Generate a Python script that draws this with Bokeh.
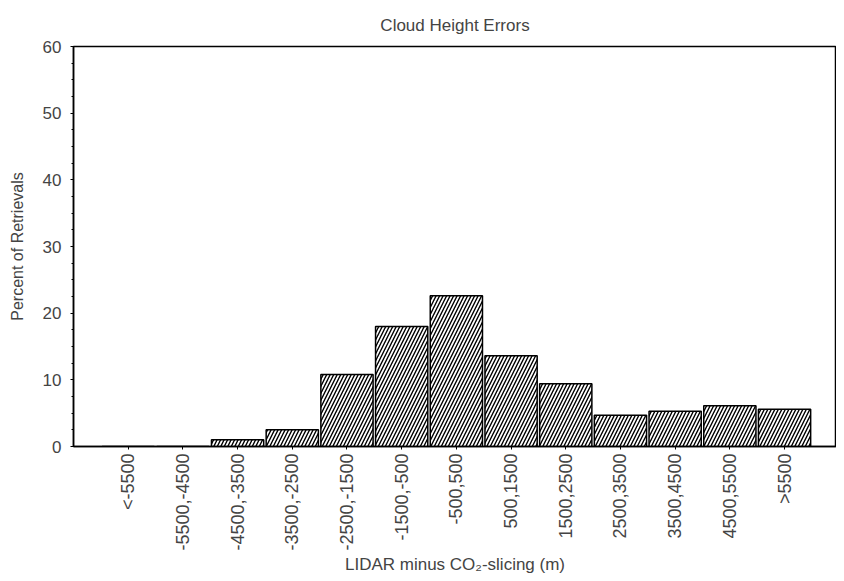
from bokeh.plotting import figure
from bokeh.models import Range1d, FixedTicker, ColumnDataSource
from bokeh.embed import file_html
from bokeh.resources import INLINE

categories = ["<-5500", "-5500,-4500", "-4500,-3500", "-3500,-2500", "-2500,-1500",
              "-1500,-500", "-500,500", "500,1500", "1500,2500", "2500,3500",
              "3500,4500", "4500,5500", ">5500"]
percent = [0.0, 0.0, 1.0, 2.5, 10.8, 18.0, 22.6, 13.6, 9.4, 4.7, 5.3, 6.1, 5.6]
y_ticks = [0, 10, 20, 30, 40, 50, 60]

xs = list(range(len(categories)))
src = ColumnDataSource(data=dict(x=xs, top=percent))

FONT = "Liberation Sans"

p = figure(width=836, height=576, output_backend="svg", toolbar_location=None,
           x_range=Range1d(-1, len(categories) - 0.05), y_range=Range1d(0, 60),
           title="Cloud Height Errors", min_border_left=73, min_border_right=0,
           min_border_top=46)

p.vbar(x="x", top="top", bottom=0, width=0.955, source=src,
       fill_color="white", line_color="black", line_width=1.5,
       hatch_pattern="/", hatch_color="black", hatch_scale=7, hatch_weight=1.4)

p.title.text_font = FONT
p.title.text_font_size = "17px"
p.title.text_font_style = "normal"
p.title.align = "center"
p.title.standoff = 24

p.xgrid.grid_line_color = None
p.ygrid.grid_line_color = None
p.outline_line_color = "black"
p.outline_line_width = 1.5

p.xaxis.ticker = FixedTicker(ticks=xs)
p.xaxis.major_label_overrides = {i: c for i, c in enumerate(categories)}
p.xaxis.major_label_orientation = 3.14159265 / 2
p.xaxis.major_label_text_font = FONT
p.xaxis.major_label_text_font_size = "18px"
p.xaxis.major_label_standoff = 4
p.xaxis.major_tick_out = 3
p.xaxis.major_tick_in = 0
p.xaxis.minor_tick_line_color = None
p.xaxis.axis_line_width = 1.5
p.xaxis.axis_label = "LIDAR minus CO\u2082-slicing (m)"
p.xaxis.axis_label_text_font = FONT
p.xaxis.axis_label_text_font_size = "17px"
p.xaxis.axis_label_text_font_style = "normal"
p.xaxis.axis_label_standoff = 1

p.yaxis.ticker = FixedTicker(ticks=y_ticks, minor_ticks=[2.5 * i for i in range(25)])
p.yaxis.major_label_text_font = FONT
p.yaxis.major_label_text_font_size = "17px"
p.yaxis.major_label_standoff = 9
p.yaxis.major_tick_out = 3
p.yaxis.major_tick_in = 0
p.yaxis.minor_tick_in = 0
p.yaxis.minor_tick_out = 2
p.yaxis.axis_line_width = 1.5
p.yaxis.axis_label = "Percent of Retrievals"
p.yaxis.axis_label_text_font = FONT
p.yaxis.axis_label_text_font_size = "16px"
p.yaxis.axis_label_text_font_style = "normal"
p.yaxis.axis_label_standoff = 14

open("out.html", "w").write(file_html(p, INLINE))
